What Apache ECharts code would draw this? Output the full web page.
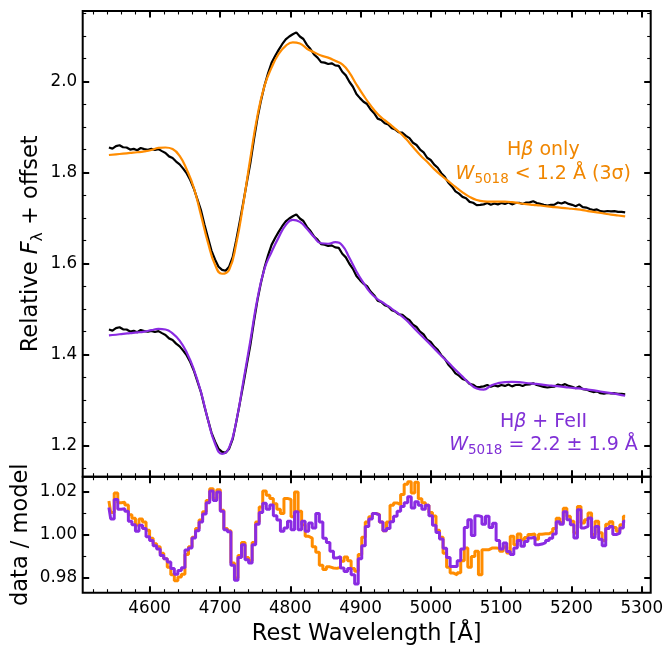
<!DOCTYPE html>
<html>
<head>
<meta charset="utf-8">
<script src="https://cdn.jsdelivr.net/npm/echarts@6/dist/echarts.min.js"></script>
<style>
  html, body { margin: 0; padding: 0; background: #fff; }
  #chart { width: 666px; height: 647px; }
</style>
</head>
<body>
<div id="chart"></div>
<script>
// Spectrum sampling (rest wavelength, Angstrom)
const DATA_START = 4542;
const DATA_STEP = 5.03;
const MODEL_STEP = 10.06;
const OFFSET = 0.4;          // vertical shift of the upper copy

// Observed relative flux (lower copy)
const FLUX = [
  1.4545, 1.4520, 1.4575, 1.4595, 1.4550, 1.4545, 1.4500, 1.4515, 1.4485, 1.4535,
  1.4510, 1.4495, 1.4515, 1.4490, 1.4510, 1.4465, 1.4425, 1.4350, 1.4315, 1.4235,
  1.4175, 1.4080, 1.3975, 1.3830, 1.3645, 1.3410, 1.3175, 1.2860, 1.2565, 1.2280,
  1.2085, 1.1925, 1.1855, 1.1835, 1.1925, 1.2135, 1.2505, 1.2915, 1.3335, 1.3775,
  1.4205, 1.4715, 1.5185, 1.5575, 1.5905, 1.6175, 1.6405, 1.6555, 1.6690, 1.6815,
  1.6920, 1.6985, 1.7035, 1.7075, 1.6985, 1.6930, 1.6800, 1.6710, 1.6590, 1.6520,
  1.6420, 1.6410, 1.6380, 1.6395, 1.6350, 1.6340, 1.6210, 1.6130, 1.5990, 1.5880,
  1.5720, 1.5630, 1.5550, 1.5500, 1.5380, 1.5300, 1.5180, 1.5150, 1.5080, 1.5050,
  1.4970, 1.4940, 1.4880, 1.4870, 1.4800, 1.4750, 1.4650, 1.4600, 1.4500, 1.4440,
  1.4320, 1.4270, 1.4170, 1.4100, 1.3980, 1.3900, 1.3770, 1.3690, 1.3580, 1.3530,
  1.3460, 1.3430, 1.3350, 1.3330, 1.3280, 1.3285, 1.3295, 1.3325, 1.3285, 1.3315,
  1.3295, 1.3325, 1.3305, 1.3335, 1.3295, 1.3325, 1.3330, 1.3305, 1.3335, 1.3340,
  1.3365, 1.3325, 1.3305, 1.3285, 1.3270, 1.3285, 1.3290, 1.3335, 1.3315, 1.3345,
  1.3305, 1.3285, 1.3255, 1.3295, 1.3235, 1.3225, 1.3195, 1.3170, 1.3185, 1.3145,
  1.3135, 1.3150, 1.3140, 1.3145, 1.3130, 1.3130, 1.3120
];

// H-beta only model
const MODEL_HB = [
  1.438, 1.4395, 1.441, 1.4425, 1.444, 1.446, 1.449, 1.4535, 1.4545, 1.451,
  1.436, 1.406, 1.366, 1.307, 1.246, 1.197, 1.177, 1.186, 1.243, 1.331,
  1.431, 1.524, 1.590, 1.630, 1.660, 1.678, 1.6855, 1.683, 1.6716, 1.664,
  1.6565, 1.652, 1.645, 1.637, 1.619, 1.593, 1.569, 1.547, 1.528, 1.5145,
  1.502, 1.489, 1.4735, 1.4555, 1.438, 1.423, 1.407, 1.393, 1.3805, 1.368,
  1.356, 1.346, 1.339, 1.336, 1.3355, 1.3355, 1.3355, 1.3345, 1.332, 1.330,
  1.3285, 1.327, 1.325, 1.3235, 1.322, 1.3205, 1.319, 1.317, 1.314, 1.312,
  1.3095, 1.307, 1.305, 1.303
];

// H-beta + Fe II model
const MODEL_FE = [
  1.4415, 1.443, 1.445, 1.4465, 1.448, 1.450, 1.453, 1.456, 1.4545, 1.446,
  1.430, 1.404, 1.367, 1.318, 1.256, 1.204, 1.181, 1.195, 1.252, 1.340,
  1.430, 1.522, 1.588, 1.625, 1.657, 1.684, 1.6955, 1.691, 1.676, 1.658,
  1.644, 1.643, 1.6465, 1.639, 1.612, 1.582, 1.557, 1.535, 1.521, 1.511,
  1.500, 1.489, 1.476, 1.460, 1.444, 1.429, 1.413, 1.397, 1.382, 1.366,
  1.351, 1.336, 1.325, 1.3225, 1.331, 1.3365, 1.339, 1.3395, 1.339, 1.337,
  1.3355, 1.334, 1.332, 1.3305, 1.329, 1.327, 1.3255, 1.324, 1.322, 1.3195,
  1.317, 1.3145, 1.312, 1.309
];

// data / model, H-beta only fit
const RATIO_HB = [
  1.0158, 1.0105, 1.0195, 1.0150, 1.0152, 1.0140, 1.0094, 1.0078, 1.0047, 1.0075,
  1.0060, 1.0022, 0.9985, 0.9960, 0.9945, 0.9915, 0.9890, 0.9850, 0.9815, 0.9788,
  0.9805, 0.9818, 0.9910, 0.9945, 0.9990, 1.0030, 1.0070, 1.0108, 1.0160, 1.0215,
  1.0170, 1.0210, 1.0115, 1.0030, 1.0020, 0.9870, 0.9800, 0.9905, 0.9965, 0.9895,
  0.9880, 0.9965, 1.0060, 1.0130, 1.0205, 1.0185, 1.0170, 1.0145, 1.0120, 1.0100,
  1.0170, 1.0165, 1.0085, 1.0200, 1.0110, 1.0048, 0.9994, 0.9986, 0.9945, 0.9920,
  0.9860, 0.9840, 0.9852, 0.9847, 0.9845, 0.9850, 0.9878, 0.9898, 0.9880, 0.9845,
  0.9832, 0.9910, 0.9990, 1.0060, 1.0085, 1.0100, 1.0096, 1.0060, 1.0020, 1.0060,
  1.0138, 1.0149, 1.0141, 1.0188, 1.0236, 1.0248, 1.0195, 1.0245, 1.0168, 1.0150,
  1.0138, 1.0105, 1.0088, 1.0022, 0.9990, 0.9915, 0.9850, 0.9823, 0.9815, 0.9825,
  0.9880, 0.9940, 0.9850, 0.9900, 0.9925, 0.9815, 0.9932, 0.9932, 0.9940, 0.9940,
  0.9938, 0.9925, 0.9945, 0.9916, 0.9994, 0.9955, 1.0005, 0.9978, 0.9988, 1.0002,
  1.0005, 0.9980, 1.0004, 1.0006, 1.0006, 1.0015, 1.0030, 1.0078, 1.0058, 1.0124,
  1.0087, 1.0064, 1.0009, 1.0133, 1.0056, 1.0071, 1.0102, 1.0002, 1.0064, 1.0010,
  0.9975, 1.0050, 1.0062, 1.0035, 1.0017, 1.0048, 1.0087
];

// data / model, H-beta + Fe II fit
const RATIO_FE = [
  1.0128, 1.0075, 1.0165, 1.0120, 1.0122, 1.0110, 1.0064, 1.0048, 1.0017, 1.0045,
  1.0030, 0.9992, 0.9975, 0.9950, 0.9935, 0.9905, 0.9890, 0.9875, 0.9845, 0.9818,
  0.9835, 0.9848, 0.9930, 0.9940, 0.9986, 1.0020, 1.0060, 1.0098, 1.0150, 1.0205,
  1.0160, 1.0200, 1.0110, 1.0025, 1.0015, 0.9860, 0.9790, 0.9895, 0.9955, 0.9885,
  0.9870, 0.9955, 1.0050, 1.0105, 1.0148, 1.0120, 1.0140, 1.0090, 1.0070, 1.0017,
  1.0033, 1.0064, 1.0025, 1.0108, 1.0025, 1.0064, 1.0017, 1.0056, 1.0033, 1.0100,
  1.0060, 0.9985, 0.9965, 0.9925, 0.9893, 0.9900, 0.9847, 0.9831, 0.9845, 0.9815,
  0.9772, 0.9890, 0.9950, 1.0040, 1.0075, 1.0100, 1.0094, 1.0060, 1.0020, 1.0030,
  1.0062, 1.0087, 1.0110, 1.0133, 1.0150, 1.0178, 1.0125, 1.0155, 1.0138, 1.0120,
  1.0138, 1.0090, 1.0045, 1.0012, 0.9982, 0.9938, 0.9895, 0.9854, 0.9854, 0.9880,
  0.9935, 1.0035, 1.0071, 0.9998, 1.0090, 1.0085, 1.0050, 1.0087, 1.0035, 1.0055,
  0.9975, 0.9935, 0.9963, 0.9924, 0.9909, 0.9940, 0.9975, 0.9948, 0.9970, 0.9986,
  0.9990, 0.9955, 0.9958, 0.9965, 0.9975, 0.9985, 1.0005, 1.0062, 1.0050, 1.0108,
  1.0071, 1.0048, 0.9986, 1.0118, 1.0033, 1.0040, 1.0079, 0.9988, 1.0040, 0.9980,
  0.9950, 1.0030, 1.0040, 1.0002, 1.0009, 1.0033, 1.0064
];

// Axis ticks
const X_MAJOR = [4600, 4700, 4800, 4900, 5000, 5100, 5200, 5300];
const X_MINOR_STEP = 20;
const Y_FLUX_MAJOR = [1.2, 1.4, 1.6, 1.8, 2.0];
const Y_FLUX_MINOR_STEP = 0.05;
const Y_RATIO_MAJOR = [0.98, 1.00, 1.02];
const Y_RATIO_MINOR_STEP = 0.01;

const X_MIN = 4504.7, X_MAX = 5312.7;
const Y_FLUX_MIN = 1.131, Y_FLUX_MAX = 2.1545;
const Y_RATIO_MIN = 0.9732, Y_RATIO_MAX = 1.0271;

const ORANGE = '#ff8c00';
const PURPLE = '#8a2be2';
const FONT = 'DejaVu Sans';
const TITLE_SIZE = 22.5;

function stepValues(lo, hi, step) {
  const out = [];
  const k0 = Math.ceil(lo / step - 1e-9), k1 = Math.floor(hi / step + 1e-9);
  for (let k = k0; k <= k1; k++) out.push(+(k * step).toFixed(4));
  return out;
}

const X_MINOR = stepValues(X_MIN, X_MAX, X_MINOR_STEP);
const Y_FLUX_MINOR = stepValues(Y_FLUX_MIN, Y_FLUX_MAX, Y_FLUX_MINOR_STEP);
const Y_RATIO_MINOR = stepValues(Y_RATIO_MIN, Y_RATIO_MAX, Y_RATIO_MINOR_STEP);

const waveData = FLUX.map((_, i) => DATA_START + i * DATA_STEP);
const waveModel = MODEL_FE.map((_, i) => DATA_START + i * MODEL_STEP);

const pairs = (xs, ys, add) => ys.map((v, i) => [xs[i], v + (add || 0)]);

const majorTick = vals => ({ show: true, inside: true, length: 6.5, lineStyle: { color: '#000', width: 2 }, customValues: vals });
const minorTick = vals => ({ show: true, inside: true, length: 3.5, lineStyle: { color: '#000', width: 1.1 }, customValues: vals });
const labelStyle = { color: '#000', fontFamily: FONT, fontSize: 16.8 };

function axisSet(kind, gridIndex, min, max, major, minor, labels, extra) {
  const sides = kind === 'x' ? ['bottom', 'top'] : ['left', 'right'];
  const base = {
    type: 'value', gridIndex, min, max,
    splitLine: { show: false },
    axisLine: { show: false, onZero: false },
    axisLabel: { show: false }
  };
  const list = [];
  sides.forEach((pos, si) => {
    const main = Object.assign({}, base, { position: pos, axisTick: majorTick(major) });
    if (si === 0 && labels) Object.assign(main, { axisLabel: labels }, extra || {});
    list.push(main);
    list.push(Object.assign({}, base, { position: pos, axisTick: minorTick(minor) }));
  });
  return list;
}

const subRich = (size, sub, lh, sublh, color) => ({
  n: { fontFamily: FONT, fontSize: size, lineHeight: lh, verticalAlign: 'middle', color },
  i: { fontFamily: FONT, fontSize: size, lineHeight: lh, fontStyle: 'italic', verticalAlign: 'middle', color },
  s: { fontFamily: FONT, fontSize: sub, lineHeight: sublh, verticalAlign: 'bottom', color }
});

const xAxes = []
  .concat(axisSet('x', 0, X_MIN, X_MAX, X_MAJOR, X_MINOR, null))
  .concat(axisSet('x', 1, X_MIN, X_MAX, X_MAJOR, X_MINOR,
    Object.assign({ show: true, margin: 7, customValues: X_MAJOR, formatter: v => String(Math.round(v)) }, labelStyle),
    {
      name: 'Rest Wavelength [Å]', nameLocation: 'middle', nameGap: 30, nameMoveOverlap: false,
      nameTextStyle: { color: '#000', fontFamily: FONT, fontSize: TITLE_SIZE }
    }));

const yAxes = []
  .concat(axisSet('y', 0, Y_FLUX_MIN, Y_FLUX_MAX, Y_FLUX_MAJOR, Y_FLUX_MINOR,
    Object.assign({ show: true, margin: 5.5, customValues: Y_FLUX_MAJOR, formatter: v => v.toFixed(1) }, labelStyle),
    {
      name: 'Relative {i|F}{s|λ} + offset', nameLocation: 'middle', nameGap: 37, nameRotate: 90, nameMoveOverlap: false,
      nameTextStyle: { color: '#000', fontFamily: FONT, fontSize: TITLE_SIZE, rich: subRich(TITLE_SIZE, 15.5, 29, 16, '#000') }
    }))
  .concat(axisSet('y', 1, Y_RATIO_MIN, Y_RATIO_MAX, Y_RATIO_MAJOR, Y_RATIO_MINOR,
    Object.assign({ show: true, margin: 5.5, customValues: Y_RATIO_MAJOR, formatter: v => v.toFixed(2) }, labelStyle),
    {
      name: 'data / model', nameLocation: 'middle', nameGap: 50, nameRotate: 90, nameMoveOverlap: false,
      nameTextStyle: { color: '#000', fontFamily: FONT, fontSize: TITLE_SIZE }
    }));

const lineSeries = (name, data, color, width, xi, yi, opts) => Object.assign({
  name, type: 'line', data, xAxisIndex: xi, yAxisIndex: yi,
  showSymbol: false, symbol: 'none', silent: true,
  lineStyle: { color, width }, itemStyle: { color }
}, opts || {});

const noteRich = fill => ({
  n: { fontFamily: FONT, fontSize: 19, lineHeight: 24, verticalAlign: 'middle', fill },
  i: { fontFamily: FONT, fontSize: 19, lineHeight: 24, fontStyle: 'italic', verticalAlign: 'middle', fill },
  s: { fontFamily: FONT, fontSize: 13.5, lineHeight: 14, verticalAlign: 'bottom', fill }
});
const richO = noteRich('#f08600');
const richP = noteRich('#8030d6');
const note = (x, y, text, rich) => ({
  type: 'text', x, y, z: 50,
  style: { text, rich, align: 'center', verticalAlign: 'middle' }
});

const chart = echarts.init(document.getElementById('chart'), null, { renderer: 'canvas' });
chart.setOption({
  animation: false,
  backgroundColor: '#fff',
  grid: [
    { left: 82.7, top: 11, width: 568, height: 465.7, show: true, borderColor: '#000', borderWidth: 2, outerBoundsMode: 'none' },
    { left: 82.7, top: 476.7, width: 568, height: 116, show: true, borderColor: '#000', borderWidth: 2, outerBoundsMode: 'none' }
  ],
  xAxis: xAxes,
  yAxis: yAxes,
  series: [
    lineSeries('data (offset)', pairs(waveData, FLUX, OFFSET), '#000', 2.2, 0, 0),
    lineSeries('data', pairs(waveData, FLUX), '#000', 2.2, 0, 0),
    lineSeries('Hβ only', pairs(waveModel, MODEL_HB, OFFSET), ORANGE, 2.2, 0, 0, { smooth: true }),
    lineSeries('Hβ + FeII', pairs(waveModel, MODEL_FE), PURPLE, 2.2, 0, 0, { smooth: true }),
    lineSeries('ratio Hβ only', pairs(waveData, RATIO_HB), ORANGE, 3, 4, 4, { step: 'middle' }),
    lineSeries('ratio Hβ + FeII', pairs(waveData, RATIO_FE), PURPLE, 3, 4, 4, { step: 'middle' })
  ],
  graphic: [
    note(543.3, 150, '{n|H}{i|β}{n| only}', richO),
    note(543.3, 174, '{i|W}{s|5018}{n| < 1.2 Å (3σ)}', richO),
    note(543.5, 421.7, '{n|H}{i|β}{n| + FeII}', richP),
    note(543.5, 445.5, '{i|W}{s|5018}{n| = 2.2 ± 1.9 Å}', richP)
  ]
});
</script>
</body>
</html>
